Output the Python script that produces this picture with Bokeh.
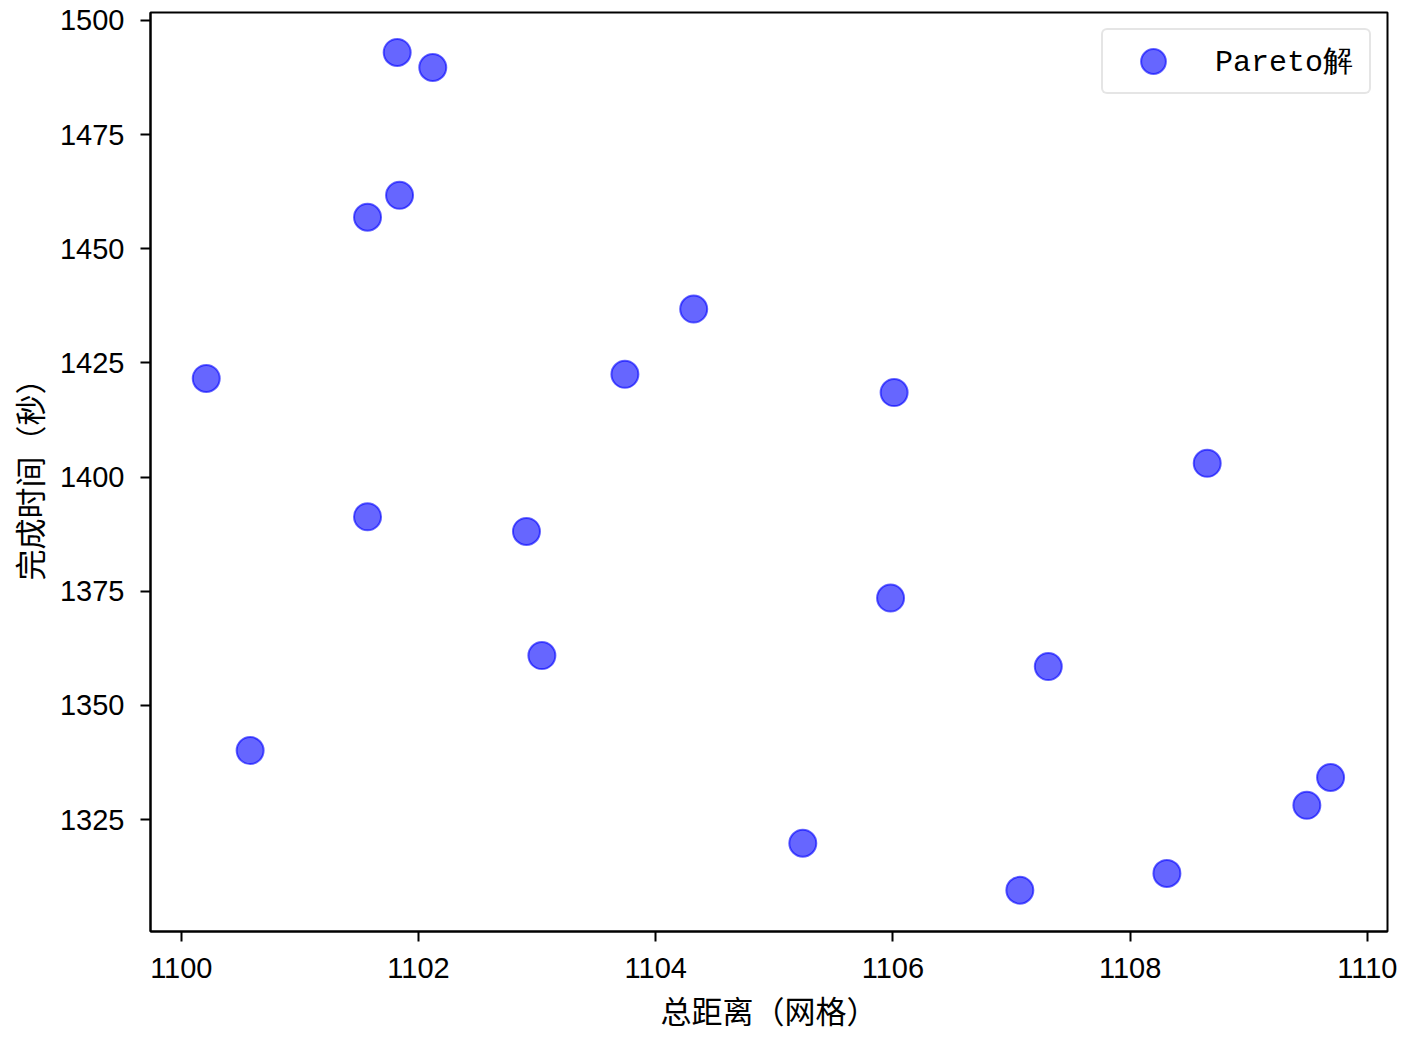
from bokeh.plotting import figure
from bokeh.models import FixedTicker, Range1d, ColumnDataSource
from bokeh.embed import file_html
from bokeh.resources import INLINE

distance = [1101.82, 1102.12, 1101.84, 1101.57, 1104.32, 1100.21, 1103.74, 1106.01, 1108.65, 1101.57,
            1102.91, 1105.98, 1103.04, 1107.31, 1100.58, 1109.69, 1109.49, 1105.24, 1108.31, 1107.07]
time_s = [1493.0, 1489.7, 1461.7, 1456.9, 1436.8, 1421.6, 1422.5, 1418.5, 1403.0, 1391.3,
          1388.1, 1373.5, 1360.9, 1358.5, 1340.1, 1334.2, 1328.1, 1319.8, 1313.2, 1309.5]
x_ticks = [1100, 1102, 1104, 1106, 1108, 1110]
y_ticks = [1325, 1350, 1375, 1400, 1425, 1450, 1475, 1500]

FONT = "Noto Sans CJK SC"
NUM_FONT = "Liberation Sans"

p = figure(width=1400, height=1035, output_backend="svg", toolbar_location=None,
           x_range=Range1d(1099.74, 1110.17), y_range=Range1d(1300.47, 1501.75),
           min_border_left=150, min_border_top=12, min_border_right=13, min_border_bottom=104)
p.grid.visible = False
p.outline_line_color = "black"
p.outline_line_width = 2
p.outline_line_alpha = 1

src = ColumnDataSource(dict(x=distance, y=time_s))
p.scatter("x", "y", source=src, size=27, fill_color="blue", fill_alpha=0.6,
          line_color="blue", line_alpha=0.6, line_width=2, legend_label="Pareto解")

p.xaxis.ticker = FixedTicker(ticks=x_ticks)
p.yaxis.ticker = FixedTicker(ticks=y_ticks)
for ax in (p.xaxis[0], p.yaxis[0]):
    ax.axis_line_width = 2
    ax.major_tick_line_width = 2
    ax.major_tick_out = 10
    ax.major_tick_in = 0
    ax.minor_tick_line_color = None
    ax.major_label_text_font = NUM_FONT
    ax.major_label_text_font_size = "29px"
    ax.major_label_text_color = "black"
    ax.axis_label_text_font = FONT
    ax.axis_label_text_font_size = "31px"
    ax.axis_label_text_font_style = "normal"
    ax.axis_label_text_color = "black"
p.xaxis.major_label_standoff = 16
p.yaxis.major_label_standoff = 16
p.xaxis.axis_label = "总距离（网格）"
p.yaxis.axis_label = "完成时间（秒）"
p.xaxis.axis_label_standoff = 6
p.yaxis.axis_label_standoff = 6

p.legend.location = "top_right"
p.legend.label_text_font = "Liberation Mono"
p.legend.label_text_font_size = "30px"
p.legend.label_text_color = "black"
p.legend.border_line_color = "#cccccc"
p.legend.border_line_width = 2
p.legend.border_radius = 6
p.legend.margin = 16
p.legend.padding = 0
p.legend.spacing = 0
p.legend.label_standoff = 12
p.legend.label_width = 154
p.legend.glyph_width = 100
p.legend.glyph_height = 62

open("out.html", "w").write(file_html(p, INLINE))
